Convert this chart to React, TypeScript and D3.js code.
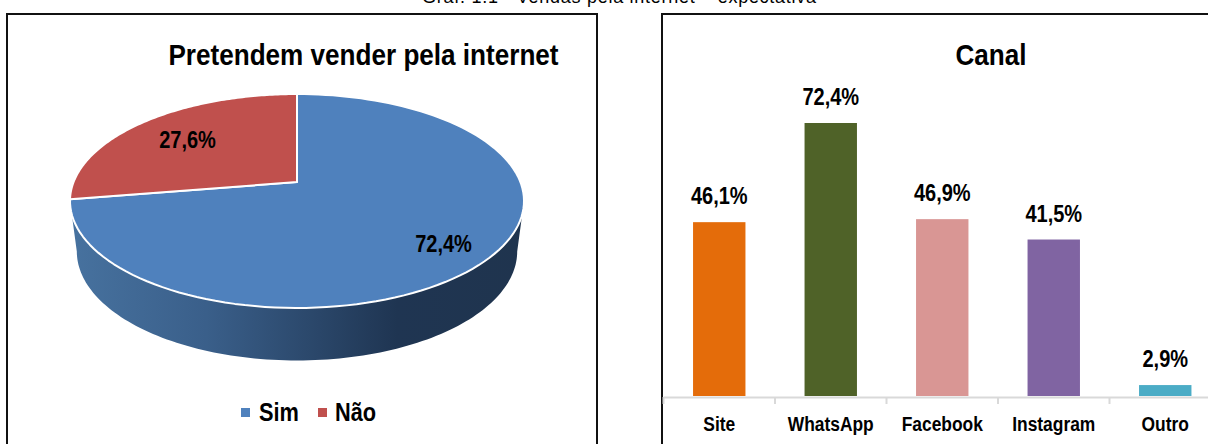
import { useEffect, useRef } from 'react';
import * as d3 from 'd3';

const pieLabels = ['Sim', 'Não'];
const pieValues = [72.4, 27.6];
const pieColors = ['#4f81bd', '#c0504d'];

const channels = ['Site', 'WhatsApp', 'Facebook', 'Instagram', 'Outro'];
const channelValues = [46.1, 72.4, 46.9, 41.5, 2.9];
const channelColors = ['#e46c0a', '#4f6228', '#d99694', '#8064a2', '#4bacc6'];

const pct = (v: number) => v.toFixed(1).replace('.', ',') + '%';
const boldFont = '"Liberation Sans", Arial, sans-serif';
const squeeze = 0.87; // no narrow font here, so bold text is squeezed sideways

// tilted pie: perspective, the front of the disc comes out bigger than the back
const tilt = 0.1776;
const project = (a: number, dy = 0, kx = 1, ky = 1): [number, number] => {
  const u = Math.sin(a);
  const v = -Math.cos(a);
  const w = 1 - tilt * v;
  return [297 + (kx * 223.4 * u) / w, 182 + dy + (ky * 103.6 * v) / w];
};

function App() {
  const ref = useRef<SVGSVGElement>(null);

  useEffect(() => {
    const svg = d3.select(ref.current);
    svg.selectAll('*').remove();

    const boldText = (x: number, y: number, size: number, s: string, anchor = 'middle') =>
      svg.append('text')
        .attr('transform', `translate(${x},${y}) scale(${squeeze},1)`)
        .attr('text-anchor', anchor)
        .attr('font-family', boldFont).attr('font-weight', 700).attr('font-size', size)
        .text(s);

    svg.append('text')
      .attr('x', 422).attr('y', 3)
      .attr('textLength', 394)
      .attr('font-family', boldFont)
      .attr('font-size', 18)
      .text('Gráf. 1.1 - Vendas pela internet – expectativa');

    // frames
    svg.append('rect').attr('x', 7).attr('y', 14).attr('width', 590).attr('height', 440)
      .attr('fill', 'none').attr('stroke', '#111').attr('stroke-width', 2);
    svg.append('rect').attr('x', 662).attr('y', 14).attr('width', 600).attr('height', 440)
      .attr('fill', 'none').attr('stroke', '#111').attr('stroke-width', 2);

    // pie
    const grad = svg.append('defs').append('linearGradient').attr('id', 'side')
      .attr('gradientUnits', 'userSpaceOnUse')
      .attr('x1', 70).attr('x2', 524).attr('y1', 0).attr('y2', 0);
    grad.append('stop').attr('offset', 0).attr('stop-color', '#47729f');
    grad.append('stop').attr('offset', 0.3).attr('stop-color', '#3a5f8a');
    grad.append('stop').attr('offset', 0.72).attr('stop-color', '#1f3552');
    grad.append('stop').attr('offset', 1).attr('stop-color', '#1f344e');

    const arcs = d3.pie<number>().sort(null)(pieValues);
    const line = d3.line();
    const arcPoints = (a0: number, a1: number, dy = 0, kx = 1, ky = 1) =>
      d3.range(0, 121).map(i => project(a0 + ((a1 - a0) * i) / 120, dy, kx, ky));

    // rim below the visible front of the disc, from widest point to widest point
    const front = arcPoints(Math.PI * 0.557, Math.PI * 1.443);
    const frontLow = arcPoints(Math.PI * 0.557, Math.PI * 1.443, 50, 0.97, 1.02);
    svg.append('path')
      .attr('d', line(front.concat(frontLow.reverse())) + 'Z')
      .attr('fill', 'url(#side)');

    svg.append('g').selectAll('path').data(arcs).enter().append('path')
      .attr('d', d => line([[297, 182], ...arcPoints(d.startAngle, d.endAngle)]) + 'Z')
      .attr('fill', (d, i) => pieColors[i])
      .attr('stroke', '#fff').attr('stroke-width', 2).attr('stroke-linejoin', 'round');

    const labelPos = [[443.5, 252], [187.5, 148]];
    pieValues.forEach((v, i) => boldText(labelPos[i][0], labelPos[i][1], 23, pct(v)));

    boldText(363.5, 65, 30, 'Pretendem vender pela internet');

    // legend
    const legendX = [[241, 259], [318, 335]];
    pieLabels.forEach((name, i) => {
      svg.append('rect').attr('x', legendX[i][0]).attr('y', 408).attr('width', 9).attr('height', 9)
        .attr('fill', pieColors[i]);
      boldText(legendX[i][1], 421, 25, name, 'start');
    });

    // bars
    const x = d3.scaleBand<string>().domain(channels).range([663.5, 1221]).paddingInner(0.53).paddingOuter(0.265);
    const y = d3.scaleLinear().domain([0, 72.4]).range([396, 123]);

    const axis = svg.append('g')
      .attr('transform', 'translate(0,397)')
      .call(d3.axisBottom(x).tickSize(0).tickPadding(20));
    axis.select('.domain').attr('stroke', '#d9d9d9').attr('stroke-width', 2);
    axis.selectAll('line').remove();
    axis.selectAll('text')
      .attr('fill', '#000')
      .attr('font-family', boldFont).attr('font-weight', 700).attr('font-size', 20)
      .attr('transform', `scale(${squeeze},1)`)
      .attr('x', 0);

    const step = x.step();
    svg.append('g').selectAll('line').data(channels).enter().append('line')
      .attr('x1', d => x(d)! - (step - x.bandwidth()) / 2)
      .attr('x2', d => x(d)! - (step - x.bandwidth()) / 2)
      .attr('y1', 397).attr('y2', 404)
      .attr('stroke', '#d9d9d9').attr('stroke-width', 2);

    svg.append('g').selectAll('rect').data(channelValues).enter().append('rect')
      .attr('x', (d, i) => x(channels[i])!)
      .attr('y', d => y(d))
      .attr('width', x.bandwidth())
      .attr('height', d => 396 - y(d))
      .attr('fill', (d, i) => channelColors[i]);

    channelValues.forEach((v, i) => {
      boldText(x(channels[i])! + x.bandwidth() / 2, y(v) - 18, 23, pct(v));
    });

    boldText(991, 65, 30, 'Canal');
  }, []);

  return <svg ref={ref} width={1208} height={444} style={{ position: 'absolute', left: 0, top: 0 }} />;
}

export default App;
